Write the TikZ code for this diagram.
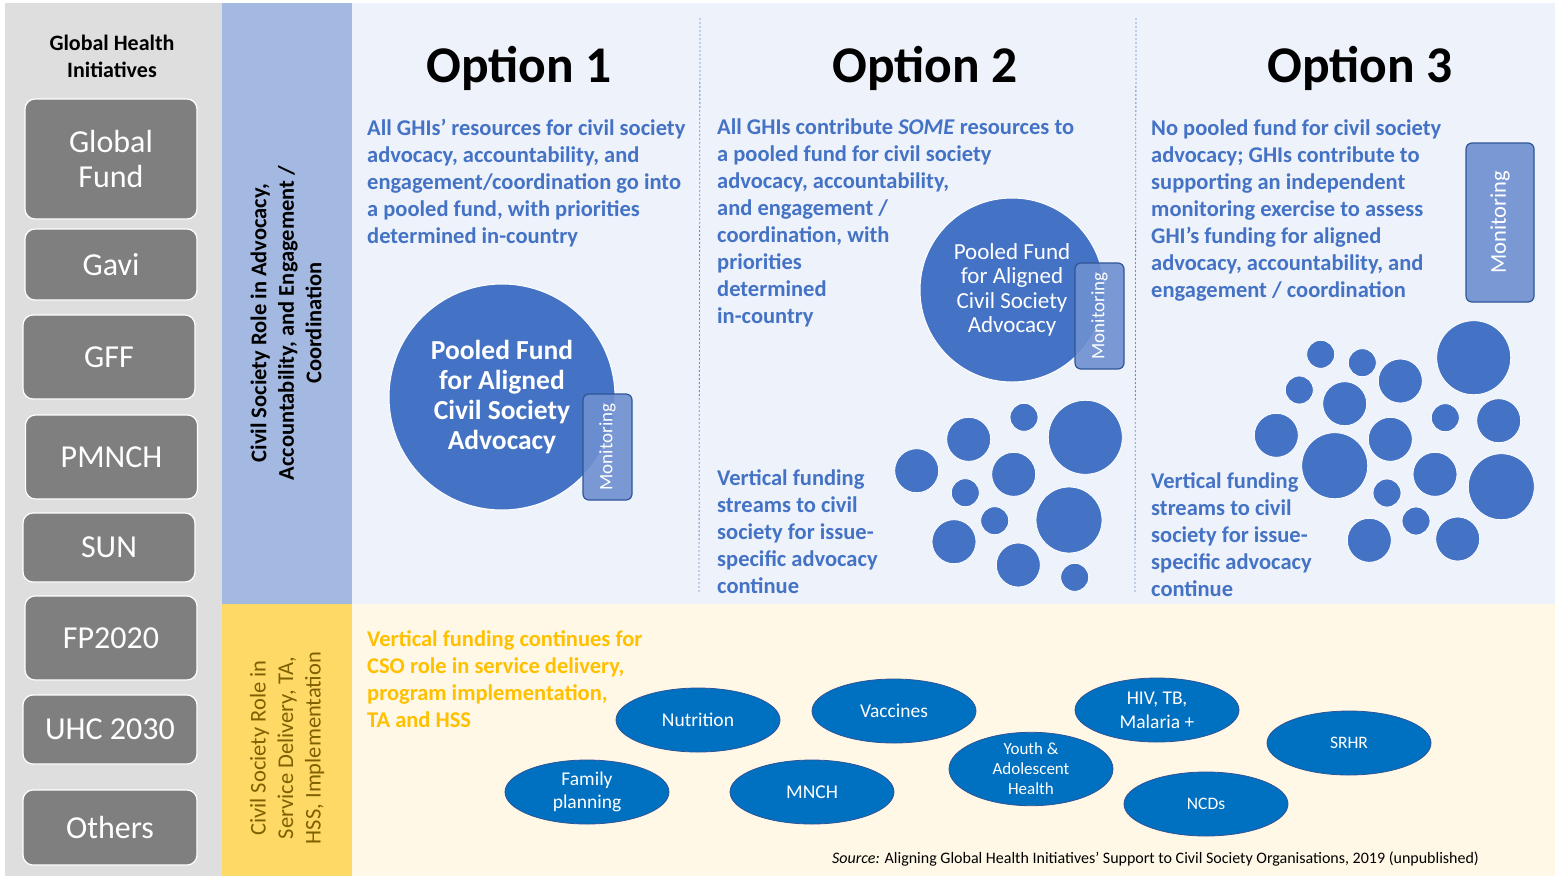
\documentclass[tikz,border=0pt]{standalone}
\usepackage{fontspec}
\setmainfont{Carlito}
\usetikzlibrary{shapes.geometric}

\definecolor{ghigray}{HTML}{DEDEDE}
\definecolor{boxgray}{HTML}{7F7F7F}
\definecolor{bandblue}{HTML}{A4B9E1}
\definecolor{paleblue}{HTML}{EDF2FB}
\definecolor{bandgold}{HTML}{FFD966}
\definecolor{palecream}{HTML}{FFF8E6}
\definecolor{optblue}{HTML}{4472C4}
\definecolor{monblue}{HTML}{6E90D0}
\definecolor{darkblue}{HTML}{2F5597}
\definecolor{areablue}{HTML}{0070C0}
\definecolor{goldtext}{HTML}{FFC000}
\definecolor{olivetext}{HTML}{7F6000}

\newcommand{\fs}[2]{\fontsize{#1}{#2}\selectfont}

\begin{document}
\begin{tikzpicture}[x=1pt,y=-1pt,
  ghibox/.style={draw=white, line width=1.2pt, fill=boxgray, rounded corners=10pt,
    text=white, minimum width=172pt, align=center, font=\fs{32}{35}},
  bodytext/.style={anchor=north west, inner sep=0pt, align=left, text=optblue,
    font=\bfseries\fs{22.5}{27}},
  title/.style={anchor=base, inner sep=0pt, font=\bfseries\fs{51.5}{60}},
  fundcircle/.style={circle, fill=optblue, draw=white, line width=1pt, inner sep=0pt,
    text=white, align=center},
  monbox/.style={rectangle, rounded corners=6pt, fill=monblue, fill opacity=0.9,
    text opacity=1, draw=darkblue, line width=1.2pt, text=white, rotate=90, inner sep=0pt},
  dot/.style={circle, fill=optblue, draw=white, line width=0.8pt, inner sep=0pt},
  areaell/.style={ellipse, fill=areablue, draw=darkblue, line width=0.8pt, inner sep=0pt,
    minimum width=164pt, minimum height=64pt, text=white, align=center, font=\fs{19.5}{23}},
  divider/.style={optblue!80, line width=0.8pt, dash pattern=on 2pt off 2pt}]

\useasboundingbox (0,0) rectangle (1555,876);

% panels
\fill[white] (0,0) rectangle (1555,876);
\fill[ghigray] (5,3) rectangle (222,876);
\fill[bandblue] (222,3) rectangle (352,604);
\fill[paleblue] (352,3) rectangle (1555,604);
\fill[bandgold] (222,604) rectangle (352,876);
\fill[palecream] (352,604) rectangle (1555,876);

% global health initiatives
\node[font=\bfseries\fs{22}{27}, align=center] (ghihead) at (112,56) {Global Health\\Initiatives};
\node[ghibox, minimum height=120pt] (gfund) at (111,159) {Global\\Fund};
\node[ghibox, minimum height=71pt] (gavi) at (111,264.5) {Gavi};
\node[ghibox, minimum height=84pt] (gff) at (109,357) {GFF};
\node[ghibox, minimum height=84pt] (pmnch) at (111.5,457) {PMNCH};
\node[ghibox, minimum height=69pt] (sun) at (109,547.5) {SUN};
\node[ghibox, minimum height=84pt] (fp) at (111,638) {FP2020};
\node[ghibox, minimum height=69pt, minimum width=174pt] (uhc) at (110,729.5) {UHC 2030};
\node[ghibox, minimum height=75pt, minimum width=174pt] (others) at (110,827.5) {Others};

% side bands
\node[rotate=90, align=center, font=\bfseries\fs{22.5}{27.5}] (advrole) at (286,323)
  {Civil Society Role in Advocacy,\\Accountability, and Engagement /\\Coordination};
\node[rotate=90, align=center, text=olivetext, font=\fs{22.5}{27.5}] (servrole) at (287,748)
  {Civil Society Role in\\Service Delivery, TA,\\HSS, Implementation};

% dividers
\coordinate (div1top) at (700,18);
\coordinate (div1bot) at (699,592);
\coordinate (div2top) at (1136,18);
\coordinate (div2bot) at (1135,592);
\draw[divider] (div1top) -- (div1bot);
\draw[divider] (div2top) -- (div2bot);

% option titles
\node[title] (opt1) at (519,82) {Option 1};
\node[title] (opt2) at (925,82) {Option 2};
\node[title] (opt3) at (1360,82) {Option 3};

% option 1
\node[bodytext] (opt1text) at (367,119)
  {All GHIs’ resources for civil society\\advocacy, accountability, and\\engagement/coordination go into\\a pooled fund, with priorities\\determined in-country};
\node[fundcircle, minimum size=226pt, font=\bfseries\fs{27.5}{30}] (pool1) at (502,397)
  {Pooled Fund\\for Aligned\\Civil Society\\Advocacy};
\node[monbox, minimum width=106pt, minimum height=49pt, font=\fs{19}{22}] (mon1) at (607.5,447) {Monitoring};

% option 2
\node[bodytext] (opt2text) at (717,119)
  {All GHIs contribute \textit{SOME} resources to\\a pooled fund for civil society\\advocacy, accountability,\\and engagement /\\coordination, with\\priorities\\determined\\in-country};
\node[fundcircle, minimum size=184pt, font=\fs{23}{24.5}] (pool2) at (1012,290)
  {Pooled Fund\\for Aligned\\Civil Society\\Advocacy};
\node[monbox, minimum width=106pt, minimum height=49pt, font=\fs{19}{22}] (mon2) at (1099.5,316) {Monitoring};
\node[bodytext] (vert2) at (717,469)
  {Vertical funding\\streams to civil\\society for issue-\\specific advocacy\\continue};
\foreach \x/\y/\r [count=\i] in {916.7/470.7/22, 968.7/439.3/22, 1024/417.3/14,
    1085.3/437.3/37, 1013.7/474.3/22, 965.3/492.7/14, 994.7/520.7/14,
    1069/520/33, 954/541.7/22, 1018.3/565/22, 1074.7/577.3/14}
  \node[dot, minimum size=2*\r] (dotb\i) at (\x,\y) {};

% option 3
\node[bodytext] (opt3text) at (1151,120)
  {No pooled fund for civil society\\advocacy; GHIs contribute to\\supporting an independent\\monitoring exercise to assess\\GHI’s funding for aligned\\advocacy, accountability, and\\engagement / coordination};
\node[monbox, minimum width=159pt, minimum height=68pt, font=\fs{22.5}{26}] (mon3) at (1500,222.5) {Monitoring};
\node[bodytext] (vert3) at (1151,472)
  {Vertical funding\\streams to civil\\society for issue-\\specific advocacy\\continue};
\foreach \x/\y/\r [count=\i] in {1320.7/354.3/14, 1362.3/362.7/14, 1400.3/381/22,
    1473.7/357.7/37, 1299.3/390/14, 1344.7/403.7/22, 1445.3/417.7/14,
    1498.7/420.7/22, 1276.3/435.3/22, 1390.3/439.3/22, 1334.7/465.7/33,
    1435/474.3/22, 1501.3/486.7/33, 1387/493/14, 1416/521/14,
    1369.3/540.3/22, 1457.7/539/22}
  \node[dot, minimum size=2*\r] (dotc\i) at (\x,\y) {};

% service delivery
\node[bodytext, text=goldtext] (servtext) at (367,630)
  {Vertical funding continues for\\CSO role in service delivery,\\program implementation,\\TA and HSS};
\node[areaell] (nutrition) at (698,720) {Nutrition};
\node[areaell] (vaccines) at (894,711) {Vaccines};
\node[areaell] (family) at (587,792) {Family\\planning};
\node[areaell] (mnch) at (812,792) {MNCH};
\node[areaell, font=\fs{19.5}{24}] (hiv) at (1157,710) {HIV, TB,\\Malaria +};
\node[areaell, font=\fs{17}{20}] (youth) at (1031,769) {Youth \&\\Adolescent\\Health};
\node[areaell, font=\fs{17.5}{20}] (srhr) at (1349,743) {SRHR};
\node[areaell, font=\fs{17.5}{20}] (ncds) at (1206,804) {NCDs};

\node[anchor=base west, inner sep=0pt, font=\fs{16}{19}] (source) at (832,863)
  {\textit{Source:} Aligning Global Health Initiatives’ Support to Civil Society Organisations, 2019 (unpublished)};

\end{tikzpicture}
\end{document}
